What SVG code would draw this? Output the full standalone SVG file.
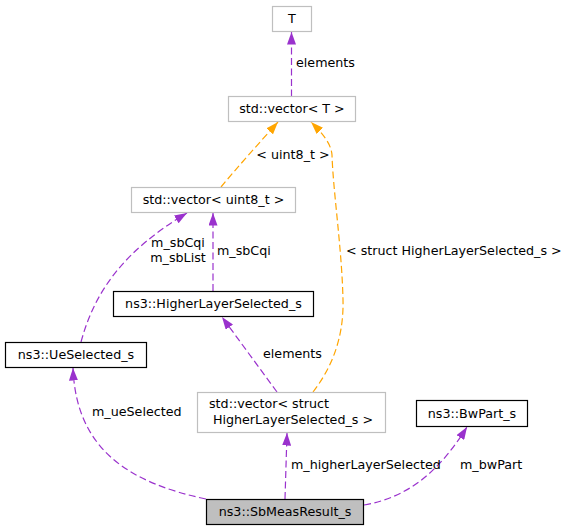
<svg xmlns="http://www.w3.org/2000/svg" width="571" height="531" viewBox="0 0 571 531">
<style>
text { font-family: "DejaVu Sans", sans-serif; font-size: 12.7px; fill: #000; }
.c { text-anchor: middle; }
.gray { fill: #fff; stroke: #bfbfbf; stroke-width: 1.2; }
.blk { fill: #fff; stroke: #000; stroke-width: 1.2; }
.sel { fill: #bfbfbf; stroke: #000; stroke-width: 1.2; }
.ep { fill: none; stroke: #9a32cd; stroke-width: 1.2; stroke-dasharray: 7,3.5; marker-end: url(#ap); }
.eo { fill: none; stroke: #ffa500; stroke-width: 1.2; stroke-dasharray: 7,3.5; marker-end: url(#ao); }
</style>
<defs>
<marker id="ap" viewBox="0 0 12.5 9" refX="12.5" refY="4.5" markerWidth="12.5" markerHeight="9" markerUnits="userSpaceOnUse" orient="auto">
<path d="M0,0 L12.5,4.5 L0,9 z" fill="#9a32cd"/>
</marker>
<marker id="ao" viewBox="0 0 12.5 9" refX="12.5" refY="4.5" markerWidth="12.5" markerHeight="9" markerUnits="userSpaceOnUse" orient="auto">
<path d="M0,0 L12.5,4.5 L0,9 z" fill="#ffa500"/>
</marker>
</defs>
<rect width="571" height="531" fill="#fff"/>
<g id="edges">
<path class="ep" d="M291.5,96.5 L291.5,32"/>
<path class="eo" d="M221,187 C235,170 260,142 278,122"/>
<path class="eo" d="M313,392 C330,370 344,340 343,300 C342,250 333,190 332,155 C331,143 322,133 311,122"/>
<path class="ep" d="M213,291 L213,213"/>
<path class="ep" d="M81,342 C95,290 125,250 187,213"/>
<path class="ep" d="M277,392 L222,317"/>
<path class="ep" d="M206,499 C130,483 76,450 73,368"/>
<path class="ep" d="M285,499 L287,433"/>
<path class="ep" d="M364,505 C410,497 440,470 467,427"/>
<text x="296" y="67">elements</text>
<text class="c" x="293" y="159">&lt; uint8_t &gt;</text>
<text x="346" y="255">&lt; struct HigherLayerSelected_s &gt;</text>
<text x="217" y="255">m_sbCqi</text>
<text class="c" x="178" y="247">m_sbCqi</text>
<text class="c" x="178" y="262">m_sbList</text>
<text x="263" y="358">elements</text>
<text x="92" y="416">m_ueSelected</text>
<text x="291" y="469">m_higherLayerSelected</text>
<text x="460" y="469">m_bwPart</text>
</g>
<g id="node-T">
<rect class="gray" x="272.5" y="6.5" width="39" height="25"/>
<text class="c" x="292" y="23">T</text>
</g>
<g id="node-vectorT">
<rect class="gray" x="228.5" y="96.5" width="127" height="25"/>
<text class="c" x="292" y="113">std::vector&lt; T &gt;</text>
</g>
<g id="node-vectorUint8">
<rect class="gray" x="131.5" y="187.5" width="164" height="25"/>
<text class="c" x="213.5" y="204">std::vector&lt; uint8_t &gt;</text>
</g>
<g id="node-HigherLayerSelected">
<rect class="blk" x="113.5" y="291.5" width="200" height="25"/>
<text class="c" x="213.5" y="308">ns3::HigherLayerSelected_s</text>
</g>
<g id="node-UeSelected">
<rect class="blk" x="5.5" y="342.5" width="141" height="25"/>
<text class="c" x="76" y="359">ns3::UeSelected_s</text>
</g>
<g id="node-vectorHLS">
<rect class="gray" x="197.5" y="392.5" width="188" height="40"/>
<text x="209" y="408">std::vector&lt; struct</text>
<text class="c" x="293" y="424">HigherLayerSelected_s &gt;</text>
</g>
<g id="node-BwPart">
<rect class="blk" x="416.5" y="400.5" width="111" height="26"/>
<text class="c" x="472" y="418">ns3::BwPart_s</text>
</g>
<g id="node-SbMeasResult">
<rect class="sel" x="206.5" y="499.5" width="157" height="25"/>
<text class="c" x="285" y="516">ns3::SbMeasResult_s</text>
</g>
</svg>
